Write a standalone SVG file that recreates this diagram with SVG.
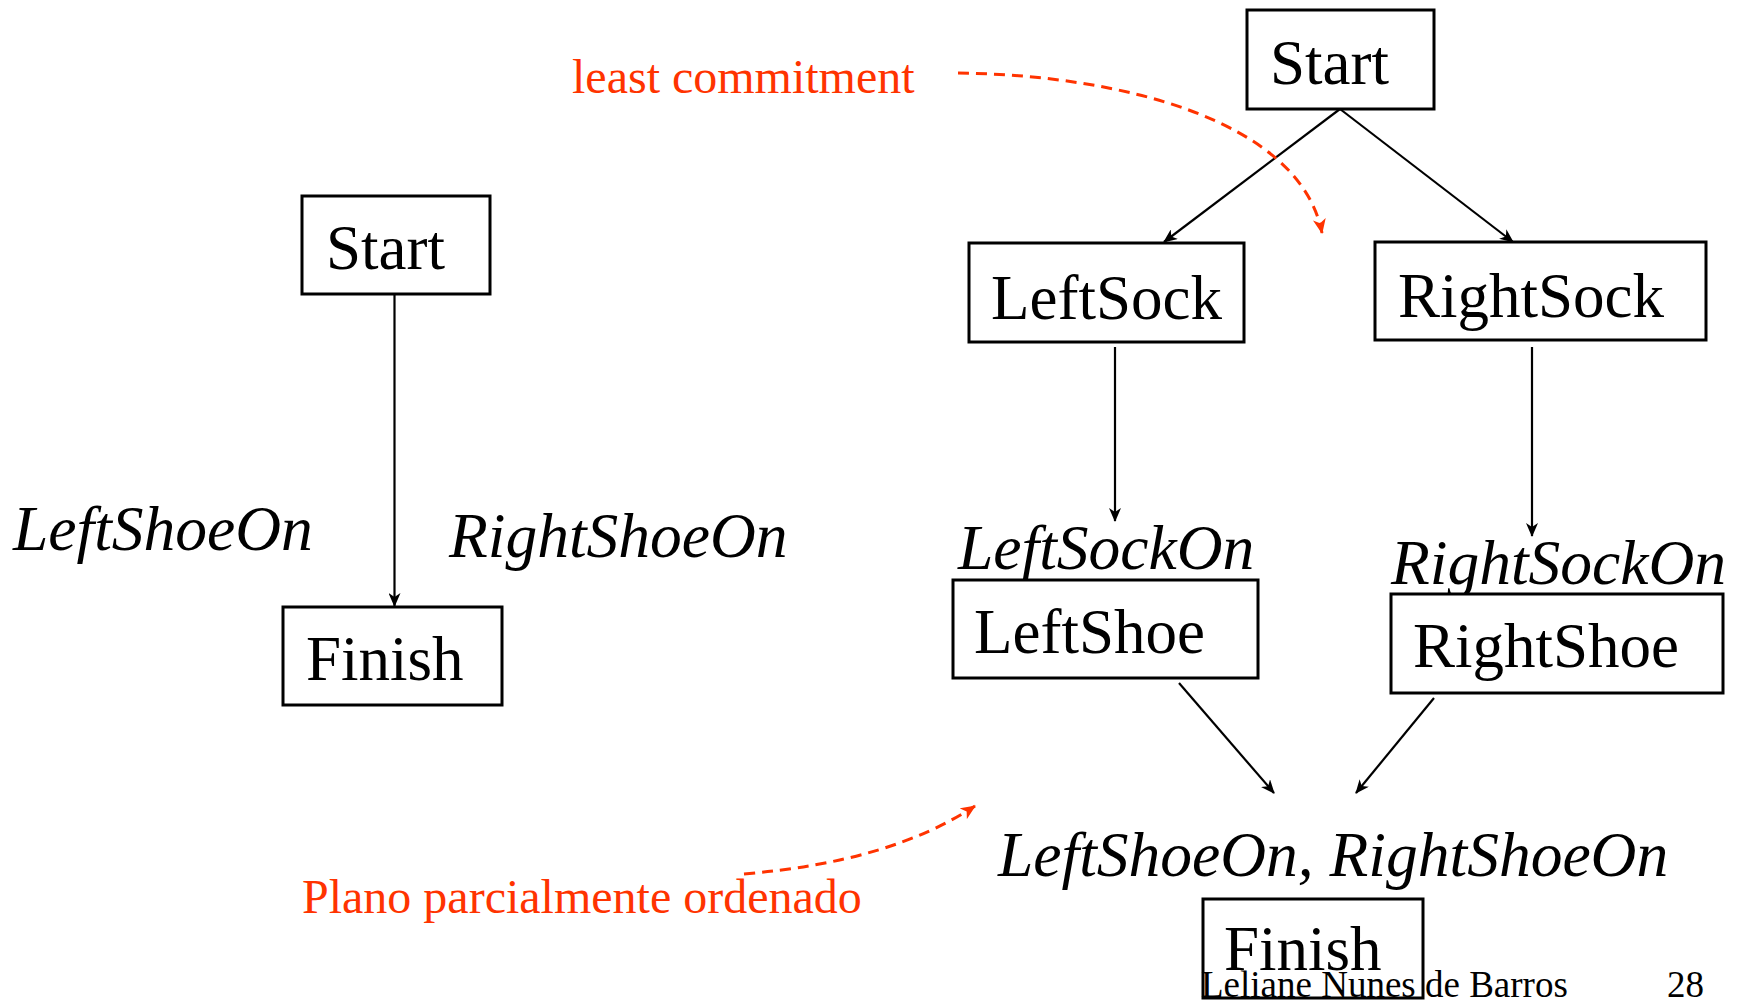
<svg xmlns="http://www.w3.org/2000/svg" width="1742" height="1001" viewBox="0 0 1742 1001">
<defs>
<style>
.box{fill:#fff;stroke:#000;stroke-width:3}
.lbl{font-family:"Liberation Serif","Times New Roman",serif;font-size:63px;fill:#000}
.it{font-family:"Liberation Serif","Times New Roman",serif;font-size:63.5px;font-style:italic;fill:#000}
.red{font-family:"Liberation Serif","Times New Roman",serif;font-size:48px;fill:#ff3300}
.foot{font-family:"Liberation Serif","Times New Roman",serif;font-size:37px;fill:#000}
.edge{fill:none;stroke:#000;stroke-width:2.2;marker-end:url(#ah)}
.dash{fill:none;stroke:#ff3300;stroke-width:3;stroke-dasharray:11 7;marker-end:url(#ahr)}
</style>
<marker id="ah" markerUnits="userSpaceOnUse" markerWidth="14" markerHeight="12" refX="13" refY="6" orient="auto" viewBox="0 0 14 12">
<path d="M0,0 L14,6 L0,12 L4,6 z" fill="#000"/>
</marker>
<marker id="ahr" markerUnits="userSpaceOnUse" markerWidth="15" markerHeight="13" refX="14" refY="6.5" orient="auto" viewBox="0 0 15 13">
<path d="M0,0 L15,6.5 L0,13 L4,6.5 z" fill="#ff3300"/>
</marker>
</defs>
<rect width="1742" height="1001" fill="#fff"/>

<g id="connectors">
<line class="edge" x1="394.5" y1="295" x2="394.5" y2="606"/>
<line class="edge" x1="1340" y1="109" x2="1164" y2="242"/>
<line class="edge" x1="1340" y1="109" x2="1513" y2="242"/>
<line class="edge" x1="1115" y1="347" x2="1115" y2="521"/>
<line class="edge" x1="1532" y1="347" x2="1532" y2="536"/>
<line class="edge" x1="1179" y1="683" x2="1274" y2="793"/>
<line class="edge" x1="1434" y1="698" x2="1356" y2="793"/>
<path class="dash" d="M958,73 C1120,75 1300,120 1322,233"/>
<path class="dash" d="M744,874 Q890,862 975,806"/>
</g>

<g id="left-start">
<rect class="box" x="302" y="196" width="188" height="98"/>
<text class="lbl" x="326" y="269">Start</text>
</g>
<g id="left-finish">
<rect class="box" x="283" y="607" width="219" height="98"/>
<text class="lbl" x="306" y="680">Finish</text>
</g>
<g id="left-conds">
<text class="it" x="13" y="550">LeftShoeOn</text>
<text class="it" x="449" y="557">RightShoeOn</text>
</g>

<g id="start">
<rect class="box" x="1247" y="10" width="187" height="99"/>
<text class="lbl" x="1270" y="84">Start</text>
</g>
<g id="leftsock">
<rect class="box" x="969" y="243" width="275" height="99"/>
<text class="lbl" x="991" y="319">LeftSock</text>
</g>
<g id="rightsock">
<rect class="box" x="1375" y="242" width="331" height="98"/>
<text class="lbl" x="1398" y="317">RightSock</text>
</g>
<g id="leftshoe">
<text class="it" x="958" y="569">LeftSockOn</text>
<rect class="box" x="953" y="580" width="305" height="98"/>
<text class="lbl" x="974" y="653">LeftShoe</text>
</g>
<g id="rightshoe">
<text class="it" x="1391" y="584">RightSockOn</text>
<rect class="box" x="1391" y="594" width="332" height="99"/>
<text class="lbl" x="1413" y="667">RightShoe</text>
</g>
<g id="finish">
<text class="it" x="998" y="876">LeftShoeOn, RightShoeOn</text>
<rect class="box" x="1203" y="899" width="220" height="99" style="fill:none"/>
<text class="lbl" x="1224" y="970">Finish</text>
</g>

<g id="annotations">
<text class="red" x="572" y="93">least commitment</text>
<text class="red" x="302" y="913">Plano parcialmente ordenado</text>
</g>

<g id="footer">
<text class="foot" x="1201" y="997">Leliane Nunes de Barros</text>
<text class="foot" x="1667" y="997">28</text>
</g>
</svg>
